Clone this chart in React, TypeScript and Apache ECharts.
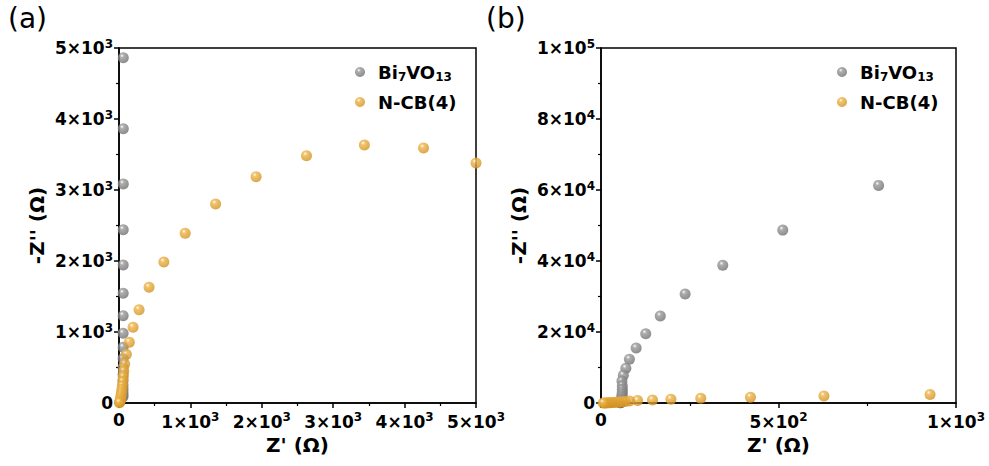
import React, { useEffect, useRef } from "react";
import * as echarts from "echarts";

const panelLabels = ["(a)", "(b)"];
const seriesNames = ["Bi7VO13", "N-CB(4)"];

// Bi7VO13 (Z', -Z'')
const bivoX = [782, 512, 343, 237, 167, 126, 99, 80, 70, 63, 59, 60, 60, 60, 59.5, 59, 59, 58.5, 58, 58, 57.5, 57, 57, 56.5, 56, 56, 55.5, 55, 55, 54.5];
const bivoY = [61300, 48700, 38800, 30700, 24500, 19500, 15500, 12350, 9800, 7850, 6200, 4863, 3863, 3085, 2441, 1944, 1545, 1230, 982, 785, 625, 500, 400, 320, 255, 205, 165, 130, 105, 85];

// N-CB(4) (Z', -Z'')
const ncbX = [5000, 4265, 3437, 2626, 1920, 1353, 927, 628, 421, 281, 197, 145, 103, 80, 68, 60, 52, 46, 40, 35, 30, 26, 22, 18, 14, 10, 6];
const ncbY = [3380, 3592, 3634, 3483, 3187, 2803, 2390, 1986, 1630, 1314, 1066, 855, 686, 549, 450, 370, 300, 240, 190, 150, 115, 85, 60, 40, 25, 12, 5];

// axis ranges / ticks
const aMax = 5000, aInterval = 1000;
const bYMax = 100000, bYInterval = 20000;
const bXMax = 1000, bXInterval = 500;

const FONT = "'DejaVu Sans', 'Liberation Sans', Arial, sans-serif";

function sci(v: number): string {
  if (v === 0) return "{n|0}";
  const e = Math.floor(Math.log10(v) + 1e-9);
  const m = Math.round(v / Math.pow(10, e));
  return `{n|${m}×10}{p|${e}}`;
}

const tickRich = {
  n: { fontSize: 17, fontWeight: "bold", fontFamily: FONT, color: "#000" },
  p: { fontSize: 12, fontWeight: "bold", fontFamily: FONT, color: "#000", padding: [0, 0, 9, 0] },
};

function ball(base: string, dark: string) {
  return new echarts.graphic.RadialGradient(0.38, 0.32, 0.7, [
    { offset: 0, color: "#ffffff" },
    { offset: 0.25, color: base },
    { offset: 1, color: dark },
  ]);
}

const grayBall = ball("#9a9a9a", "#6e6e6e");
const orangeBall = ball("#eeb54a", "#d0901f");

function makeAxis(gridIndex: number, max: number, interval: number, isY: boolean, nameGap: number) {
  return {
    type: "value",
    gridIndex,
    min: 0,
    max,
    interval,
    name: isY ? "-Z'' (Ω)" : "Z' (Ω)",
    nameLocation: "middle",
    nameGap,
    nameTextStyle: { fontSize: 20, fontWeight: "bold", fontFamily: FONT, color: "#000" },
    axisLine: { show: true, onZero: false, lineStyle: { color: "#000", width: 1.5 } },
    axisTick: { show: true, inside: false, length: 5, lineStyle: { color: "#000", width: 1.5 } },
    minorTick: { show: true, splitNumber: 2, length: 3, lineStyle: { color: "#000", width: 1.2 } },
    splitLine: { show: false },
    axisLabel: {
      margin: isY ? 6 : 8,
      formatter: (v: number) => sci(v),
      rich: tickRich,
    },
  };
}

const legendRich = {
  n: { fontSize: 18, fontWeight: "bold", fontFamily: FONT, color: "#000" },
  s: { fontSize: 12, fontWeight: "bold", fontFamily: FONT, color: "#000", padding: [10, 0, 0, 0] },
};

function legendFmt(name: string) {
  if (name === "Bi7VO13") return "{n|Bi}{s|7}{n|VO}{s|13}";
  return "{n|" + name + "}";
}

export default function App() {
  const ref = useRef<HTMLDivElement>(null);
  useEffect(() => {
    if (!ref.current) return;
    const chart = echarts.init(ref.current, null, { renderer: "svg" });
    const pts = (xs: number[], ys: number[]) => xs.map((x, i) => [x, ys[i]]);
    const mkSeries = (name: string, idx: number, data: number[][], color: any, z: number) => ({
      name,
      type: "scatter",
      xAxisIndex: idx,
      yAxisIndex: idx,
      data,
      symbol: "circle",
      symbolSize: 11,
      itemStyle: { color },
      clip: false,
      z,
    });
    const legendBase = {
      orient: "vertical", itemGap: 10, itemWidth: 26, itemHeight: 10,
      data: seriesNames.map((n, i) => ({ name: n, itemStyle: { color: i === 0 ? grayBall : orangeBall } })),
      formatter: legendFmt, textStyle: { rich: legendRich }, selectedMode: false,
    };
    chart.setOption({
      animation: false,
      backgroundColor: "#fff",
      textStyle: { fontFamily: FONT },
      grid: [
        { left: 119, top: 48, width: 357, height: 355, show: true, borderColor: "#000", borderWidth: 1.5, backgroundColor: "transparent" },
        { left: 601, top: 48, width: 355, height: 355, show: true, borderColor: "#000", borderWidth: 1.5, backgroundColor: "transparent" },
      ],
      xAxis: [makeAxis(0, aMax, aInterval, false, 29), makeAxis(1, bXMax, bXInterval, false, 29)],
      yAxis: [makeAxis(0, aMax, aInterval, true, 72), makeAxis(1, bYMax, bYInterval, true, 72)],
      legend: [
        { ...legendBase, left: 350, top: 58 },
        { ...legendBase, left: 832, top: 58 },
      ],
      graphic: [
        { type: "text", left: 8, top: 4, style: { text: panelLabels[0], font: "28px " + FONT, fill: "#000" } },
        { type: "text", left: 486, top: 4, style: { text: panelLabels[1], font: "28px " + FONT, fill: "#000" } },
      ],
      series: [
        mkSeries(seriesNames[0], 0, pts(bivoX, bivoY).filter((p) => p[1] <= aMax), grayBall, 2),
        mkSeries(seriesNames[1], 0, pts(ncbX, ncbY), orangeBall, 3),
        mkSeries(seriesNames[0], 1, pts(bivoX, bivoY), grayBall, 2),
        mkSeries(seriesNames[1], 1, pts(ncbX, ncbY).filter((p) => p[0] <= bXMax), orangeBall, 3),
      ],
    });
    return () => chart.dispose();
  }, []);
  return <div ref={ref} style={{ position: "fixed", left: 0, top: 0, width: 989, height: 466, background: "#fff" }} />;
}
